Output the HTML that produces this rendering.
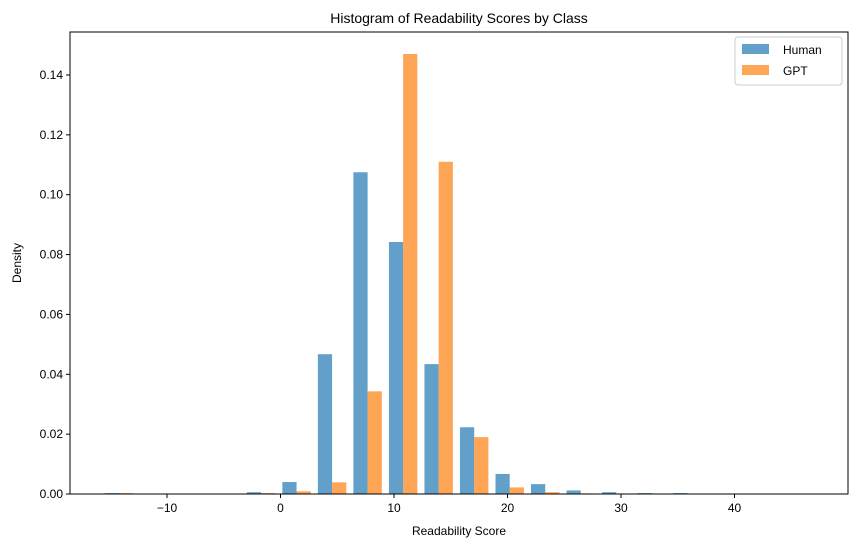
<!DOCTYPE html>
<html><head><meta charset="utf-8"><style>
body{margin:0;background:#fff;}
svg{display:block;font-family:"Liberation Sans","DejaVu Sans",sans-serif;}
</style></head><body>
<svg id="chart" width="855" height="547">
<text x="459" y="23" text-anchor="middle" font-size="14">Histogram of Readability Scores by Class</text>
<g id="bars"></g>
<g id="axes"></g>
<text x="459" y="535" text-anchor="middle" font-size="12">Readability Score</text>
<text transform="translate(21,263) rotate(-90)" text-anchor="middle" font-size="12">Density</text>
<g>
<rect x="735" y="37" width="107" height="48" fill="#fff" stroke="#ccc" rx="3"/>
<g><rect x="742" y="44" width="27" height="10" fill="#1f77b4" fill-opacity="0.7"/><text x="783" y="54" font-size="12">Human</text></g>
<g><rect x="742" y="65" width="27" height="10" fill="#ff7f0e" fill-opacity="0.7"/><text x="783" y="75" font-size="12">GPT</text></g>
</g>
</svg>
<script>
const binStart = -15.8;
const binWidth = 3.13;
const humanValues = [0.0003,0,0,0,0.0006,0.0040,0.0467,0.1075,0.0842,0.0434,0.0223,0.0067,0.0033,0.0012,0.0006,0.0003,0.0003,0,0,0];
const gptValues = [0.0003,0,0,0,0.0003,0.0009,0.0039,0.0343,0.1470,0.1110,0.0190,0.0022,0.0006,0.0002,0,0,0,0,0,0];
const xTicks = [-10,0,10,20,30,40];
const yTicks = [0,0.02,0.04,0.06,0.08,0.10,0.12,0.14];
const yTickLabels = ["0.00","0.02","0.04","0.06","0.08","0.10","0.12","0.14"];

const L=70,R=848,T=32,B=494;
const xScale = v => 280.5 + v*11.35;
const yScale = v => B - v*2993;
const NS="http://www.w3.org/2000/svg";
const bars=document.getElementById('bars'), axes=document.getElementById('axes');
function mk(tag,attrs,parent){const e=document.createElementNS(NS,tag);for(const k in attrs)e.setAttribute(k,attrs[k]);parent.appendChild(e);return e;}
const series=[[humanValues,'#1f77b4',0.1,'human'],[gptValues,'#ff7f0e',0.5,'gpt']];
series.forEach(([vals,col,off,nm])=>{
  vals.forEach((v,i)=>{
    if(v<=0) return;
    const x0=xScale(binStart+i*binWidth+off*binWidth), x1=xScale(binStart+i*binWidth+(off+0.4)*binWidth);
    const r=mk('rect',{x:x0,y:yScale(v),width:x1-x0,height:B-yScale(v),fill:col,'fill-opacity':0.7},bars);
    
    
  });
});
mk('rect',{x:L,y:T,width:R-L,height:B-T,fill:'none',stroke:'#000','stroke-width':1},axes);
xTicks.forEach(t=>{
  const x=xScale(t);
  mk('line',{x1:x,x2:x,y1:B,y2:B+4,stroke:'#000'},axes);
  const tx=mk('text',{x:x,y:B+18,'text-anchor':'middle','font-size':12},axes);
  tx.textContent=t<0?'\u2212'+Math.abs(t):t;
  
  
});
yTicks.forEach((t,i)=>{
  const y=yScale(t);
  mk('line',{x1:L-4,x2:L,y1:y,y2:y,stroke:'#000'},axes);
  const tx=mk('text',{x:L-7,y:y+4,'text-anchor':'end','font-size':12},axes);
  tx.textContent=yTickLabels[i];
  
  
});
</script>
</body></html>
